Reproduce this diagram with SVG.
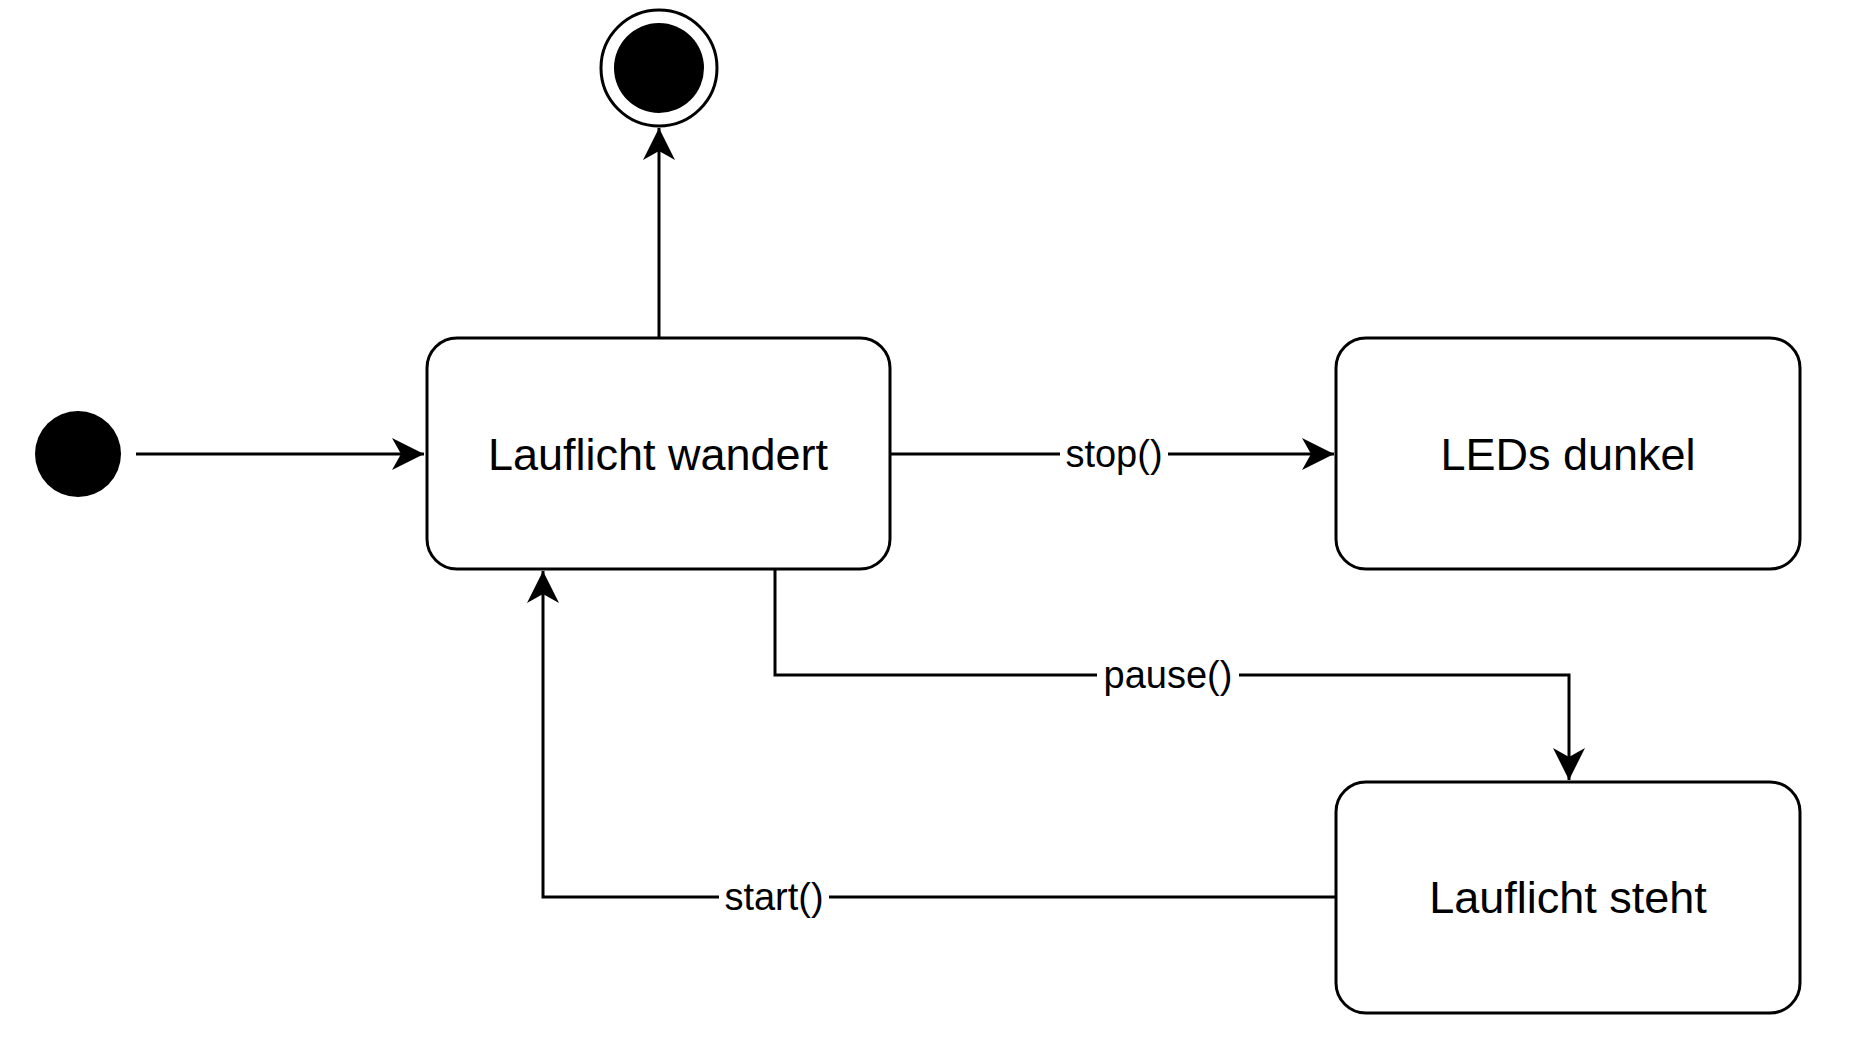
<svg xmlns="http://www.w3.org/2000/svg" width="1856" height="1040" viewBox="0 0 1856 1040">
<style>
.box{fill:#fff;stroke:#000;stroke-width:3}
.t{font-family:"Liberation Sans",Arial,sans-serif;font-size:45px;text-anchor:middle;dominant-baseline:central;fill:#000}
.l{font-family:"Liberation Sans",Arial,sans-serif;font-size:38px;text-anchor:middle;dominant-baseline:central;fill:#000}
.e{fill:none;stroke:#000;stroke-width:3}
.bg{fill:#fff}
</style>
<defs>
<marker id="a" markerUnits="userSpaceOnUse" markerWidth="36" markerHeight="36" refX="32" refY="16" orient="auto" viewBox="0 0 36 32">
<path d="M0,0 L32,16 L0,32 L9,16 Z" fill="#000"/>
</marker>
</defs>
<rect width="1856" height="1040" fill="#fff"/>
<g id="edges">
<path class="e" d="M136,454 H424" marker-end="url(#a)"/>
<path class="e" d="M659,338 V128" marker-end="url(#a)"/>
<path class="e" d="M890,454 H1334" marker-end="url(#a)"/>
<path class="e" d="M775,569 V675 H1569 V780" marker-end="url(#a)"/>
<path class="e" d="M1336,897 H543 V571" marker-end="url(#a)"/>
<rect class="bg" x="1060" y="434" width="108" height="40"/><text class="l" x="1114" y="454">stop()</text>
<rect class="bg" x="1097" y="655" width="142" height="40"/><text class="l" x="1168" y="675">pause()</text>
<rect class="bg" x="719" y="877" width="110" height="40"/><text class="l" x="774" y="897">start()</text>
</g>
<g id="init"><circle cx="78" cy="454" r="43" fill="#000"/></g>
<g id="final"><circle cx="659" cy="68" r="58" fill="#fff" stroke="#000" stroke-width="3"/><circle cx="659" cy="68" r="45" fill="#000"/></g>
<g id="wandert"><rect class="box" x="427" y="338" width="463" height="231" rx="30"/><text class="t" x="658" y="454">Lauflicht wandert</text></g>
<g id="dunkel"><rect class="box" x="1336" y="338" width="464" height="231" rx="30"/><text class="t" x="1568" y="454">LEDs dunkel</text></g>
<g id="steht"><rect class="box" x="1336" y="782" width="464" height="231" rx="30"/><text class="t" x="1568" y="897">Lauflicht steht</text></g>
</svg>
